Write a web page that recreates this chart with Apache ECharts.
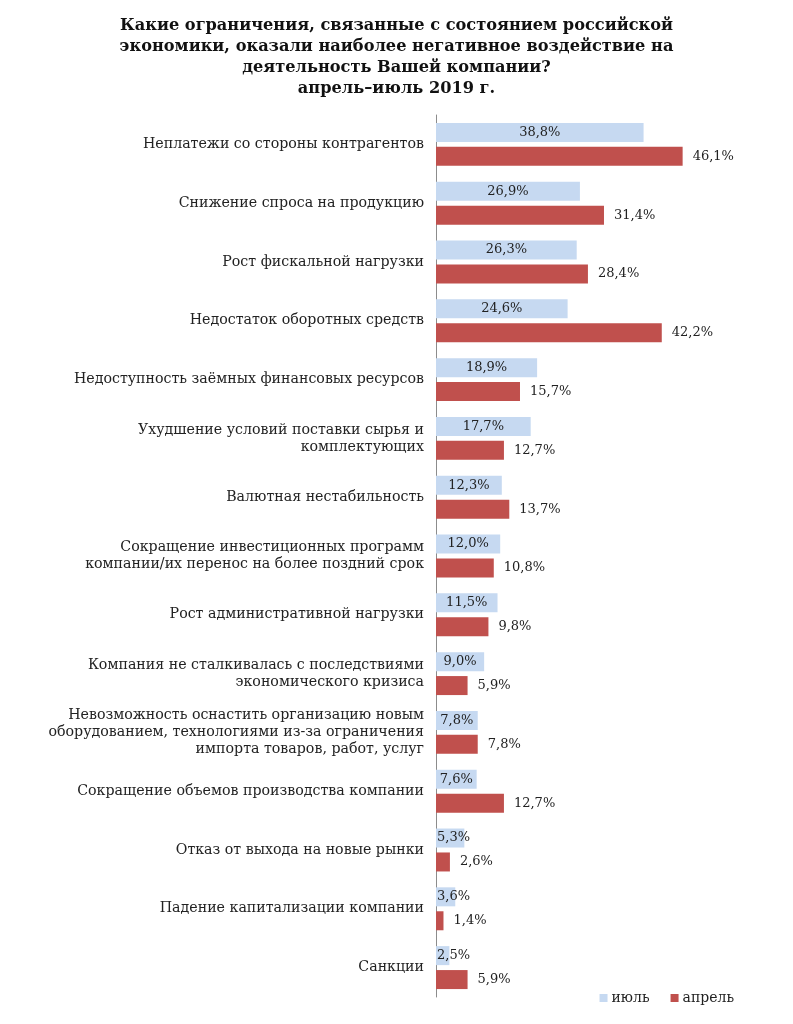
<!DOCTYPE html>
<html>
<head>
<meta charset="utf-8">
<title>Ограничения экономики</title>
<script src="https://cdn.jsdelivr.net/npm/echarts@6/dist/echarts.min.js"></script>
<style>
  html, body { margin: 0; padding: 0; background: #fff; }
  #chart { width: 793px; height: 1024px; }
</style>
</head>
<body>
<div id="chart"></div>
<script>
  // категории (сверху вниз)
  var categories = [
    'Неплатежи со стороны контрагентов',
    'Снижение спроса на продукцию',
    'Рост фискальной нагрузки',
    'Недостаток оборотных средств',
    'Недоступность заёмных финансовых ресурсов',
    'Ухудшение условий поставки сырья и\nкомплектующих',
    'Валютная нестабильность',
    'Сокращение инвестиционных программ\nкомпании/их перенос на более поздний срок',
    'Рост административной нагрузки',
    'Компания не сталкивалась с последствиями\nэкономического кризиса',
    'Невозможность оснастить организацию новым\nоборудованием, технологиями из-за ограничения\nимпорта товаров, работ, услуг',
    'Сокращение объемов производства компании',
    'Отказ от выхода на новые рынки',
    'Падение капитализации компании',
    'Санкции'
  ]
  var july = [38.8, 26.9, 26.3, 24.6, 18.9, 17.7, 12.3, 12.0, 11.5, 9.0, 7.8, 7.6, 5.3, 3.6, 2.5]
  var april = [46.1, 31.4, 28.4, 42.2, 15.7, 12.7, 13.7, 10.8, 9.8, 5.9, 7.8, 12.7, 2.6, 1.4, 5.9]
  var seriesNames = ['июль', 'апрель']

  var serif = '"DejaVu Serif", "Liberation Serif", serif'

  function fmt (v) {
    return v.toFixed(1).replace('.', ',') + '%'
  }

  // у коротких столбцов подпись прижата к оси
  var julyData = july.map(function (v) {
    if (v < 7) {
      return { value: v, label: { position: 'insideLeft', distance: 1 } }
    }
    return v
  })

  var chart = echarts.init(document.getElementById('chart'))
  var option = {
    backgroundColor: '#fff',
    animation: false,
    title: {
      text: 'Какие ограничения, связанные с состоянием российской\nэкономики, оказали наиболее негативное воздействие на\nдеятельность Вашей компании?\nапрель–июль 2019 г.',
      left: 'center',
      top: 10,
      textStyle: {
        fontFamily: serif,
        fontWeight: 'bold',
        fontSize: 16.2,
        lineHeight: 21,
        color: '#111'
      }
    },
    legend: {
      data: seriesNames,
      right: 54,
      bottom: 14,
      itemWidth: 8,
      itemHeight: 8,
      itemGap: 21,
      icon: 'rect',
      textStyle: { fontFamily: serif, fontSize: 14, color: '#222', padding: [0, 0, 0, -1] }
    },
    grid: {
      left: 436,
      right: 89.5,
      top: 115,
      bottom: 27,
      containLabel: false
    },
    xAxis: {
      type: 'value',
      min: 0,
      max: 50,
      show: false,
      splitLine: { show: false }
    },
    yAxis: {
      type: 'category',
      inverse: true,
      data: categories,
      axisTick: { show: false },
      axisLine: { show: true, lineStyle: { color: '#8c8c8c', width: 1 } },
      axisLabel: {
        margin: 12,
        fontFamily: serif,
        fontSize: 14.2,
        lineHeight: 17,
        color: '#222',
        align: 'right'
      }
    },
    series: [{
      name: seriesNames[0],
      type: 'bar',
      data: julyData,
      barWidth: 19,
      barGap: '26%',
      itemStyle: { color: '#c6d9f1' },
      label: {
        show: true,
        position: 'inside',
        fontFamily: serif,
        fontSize: 13,
        color: '#222',
        formatter: function (p) { return fmt(p.value) }
      }
    }, {
      name: seriesNames[1],
      type: 'bar',
      data: april,
      barWidth: 19,
      itemStyle: { color: '#c0504d' },
      label: {
        show: true,
        position: 'right',
        distance: 10,
        fontFamily: serif,
        fontSize: 13,
        color: '#222',
        formatter: function (p) { return fmt(p.value) }
      }
    }]
  }
  chart.setOption(option)
</script>
</body>
</html>
